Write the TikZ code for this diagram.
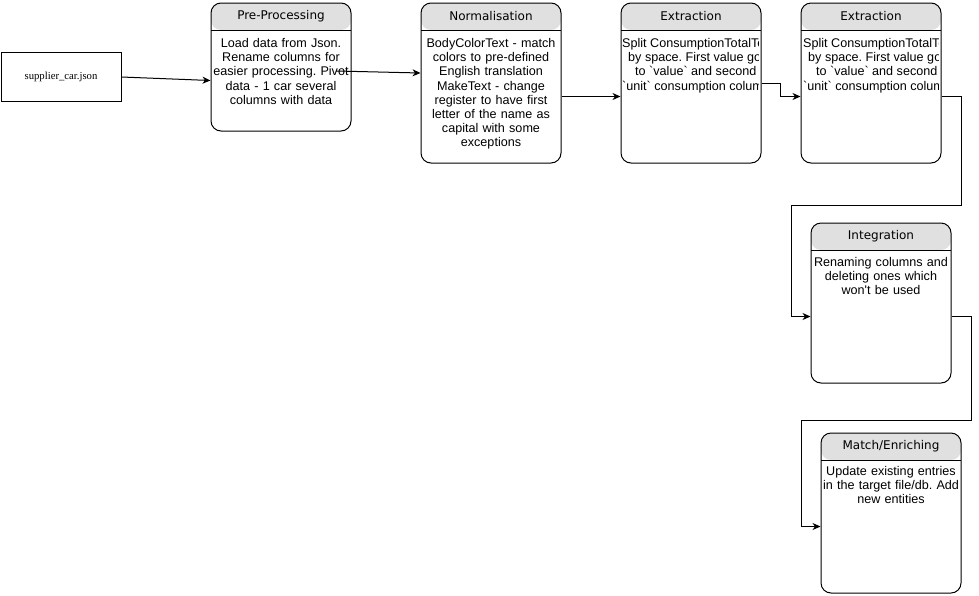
\documentclass[tikz,border=0pt]{standalone}
\usepackage{fontspec}
\setmainfont{Liberation Sans}
\newfontfamily\bodyfont{Liberation Sans}
\newfontfamily\titlefont{DejaVu Sans}
\newfontfamily\jsonfont{Liberation Serif}
\usetikzlibrary{arrows.meta,calc}
\definecolor{hdr}{HTML}{E0E0E0}
\frenchspacing
\tikzset{
  stage/.style={draw=black, line width=1pt, rounded corners=10pt, minimum width=140pt,
    anchor=north west, inner sep=0pt,
    path picture={
      \fill[hdr] (path picture bounding box.north west) rectangle ([yshift=-27pt]path picture bounding box.north east);
      \draw[line width=1pt] ([yshift=-27pt]path picture bounding box.north west) -- ([yshift=-27pt]path picture bounding box.north east);
    }},
  ttl/.style={font=\titlefont\fontsize{12}{14}\selectfont, inner sep=0pt},
  bodytxt/.style={font=\bodyfont\fontsize{12.6}{14.2}\selectfont\frenchspacing, inner sep=0pt, text width=140pt, align=center, anchor=base},
  linetxt/.style={font=\bodyfont\fontsize{12.6}{14.2}\selectfont\frenchspacing, inner sep=0pt, anchor=base west},
  arr/.style={draw=black, line width=1pt, -{Stealth[length=8pt,width=7pt,inset=2.5pt]}},
}
\begin{document}
\begin{tikzpicture}[x=1pt,y=-1pt]
\useasboundingbox (0,0) rectangle (979,595);

% source file
\node[draw=black, line width=1pt, minimum width=120pt, minimum height=49pt, anchor=north west,
      font=\jsonfont\fontsize{10.7}{12}\selectfont] (json) at (0.5,52) {supplier\_car.json};

% stages
\node[stage, minimum height=128pt] (pre) at (210.5,2.5) {};
\node[stage, minimum height=160pt] (norm) at (420.5,2.5) {};
\node[stage, minimum height=160pt] (ext1) at (620.5,2.5) {};
\node[stage, minimum height=160pt] (ext2) at (800.5,2.5) {};
\node[stage, minimum height=160pt] (integ) at (810.5,222.5) {};
\node[stage, minimum height=160pt] (match) at (820.5,432.5) {};

% titles
\node[ttl] (preT) at ([yshift=-13.5pt]pre.north) {Pre-Processing};
\node[ttl] (normT) at ([yshift=-13.5pt]norm.north) {Normalisation};
\node[ttl] (ext1T) at ([yshift=-13.5pt]ext1.north) {Extraction};
\node[ttl] (ext2T) at ([yshift=-13.5pt]ext2.north) {Extraction};
\node[ttl] (integT) at ([yshift=-13.5pt]integ.north) {Integration};
\node[ttl] (matchT) at ([yshift=-13.5pt]match.north) {Match/Enriching};

% bodies
\node[bodytxt] (preB) at ([yshift=-45pt]pre.north) {Load data from Json.\\Rename columns for\\easier processing. Pivot\\data - 1 car several\\columns with data};
\node[bodytxt] (normB) at ([yshift=-45pt]norm.north) {BodyColorText - match\\colors to pre-defined\\English translation\\MakeText - change\\register to have first\\letter of the name as\\capital with some\\exceptions};
\node[bodytxt] (integB) at ([yshift=-44pt]integ.north) {Renaming columns and\\deleting ones which\\won\textquotesingle t be used};
\node[bodytxt] (matchB) at ([yshift=-43pt]match.north) {Update existing entries\\in the target file/db. Add\\new entities};

% clipped extraction texts
\begin{scope}
\clip ([xshift=1pt]ext1.north west) rectangle ([xshift=-3pt]ext1.south east);
\node[linetxt] (e1a) at ([xshift=1.5pt,yshift=-45pt]ext1.north west) {Split ConsumptionTotalText};
\node[linetxt] (e1b) at ([xshift=7.5pt,yshift=-59.2pt]ext1.north west) {by space. First value goes};
\node[linetxt] (e1c) at ([xshift=14.5pt,yshift=-73.4pt]ext1.north west) {to \textasciigrave value\textasciigrave\ and second};
\node[linetxt] (e1d) at ([xshift=1.5pt,yshift=-87.6pt]ext1.north west) {\textasciigrave unit\textasciigrave\ consumption column};
\end{scope}
\begin{scope}
\clip ([xshift=1pt]ext2.north west) rectangle ([xshift=-3pt]ext2.south east);
\node[linetxt] (e2a) at ([xshift=2.5pt,yshift=-45pt]ext2.north west) {Split ConsumptionTotalText};
\node[linetxt] (e2b) at ([xshift=7.5pt,yshift=-59.2pt]ext2.north west) {by space. First value goes};
\node[linetxt] (e2c) at ([xshift=15.5pt,yshift=-73.4pt]ext2.north west) {to \textasciigrave value\textasciigrave\ and second};
\node[linetxt] (e2d) at ([xshift=2.5pt,yshift=-87.6pt]ext2.north west) {\textasciigrave unit\textasciigrave\ consumption column};
\end{scope}

% connectors
\coordinate (a2s) at (336,71);
\coordinate (c1) at (791,205);
\coordinate (c2) at (801,420.5);
\draw[arr] (json.east) -- ([yshift=-13.5pt]pre.west);
\draw[arr] (a2s) -- ([yshift=10pt]norm.west);
\draw[arr] ([yshift=-13.5pt]norm.east) -- ([yshift=-13.5pt]ext1.west);
\draw[arr] (ext1.east) -- ++(19,0) |- ([yshift=-13.5pt]ext2.west);
\draw[arr] ([yshift=-13.5pt]ext2.east) -- ++(20,0) |- (c1) |- ([yshift=-13.5pt]integ.west);
\draw[arr] ([yshift=-13.5pt]integ.east) -- ++(20,0) |- (c2) |- ([yshift=-13.5pt]match.west);
\end{tikzpicture}
\end{document}
